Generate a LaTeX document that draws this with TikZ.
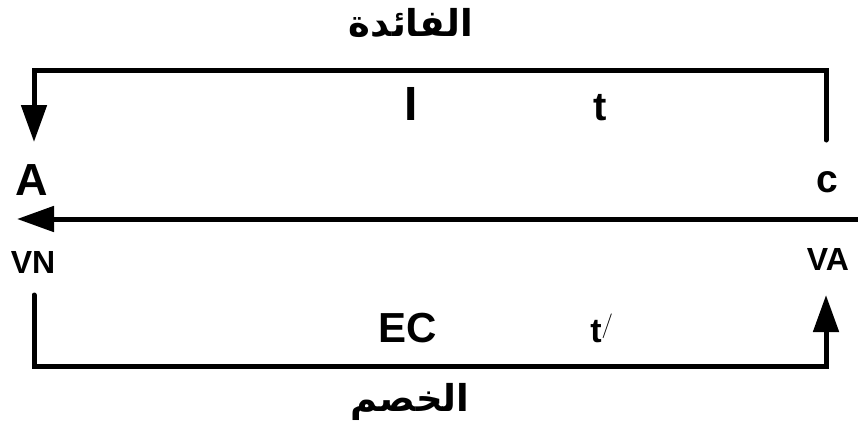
\documentclass[tikz,border=0pt]{standalone}
\usepackage{fontspec}
\setmainfont{Liberation Sans}
\newfontfamily\arabicfont[Script=Arabic]{DejaVu Sans}
\TeXXeTstate=1
\usetikzlibrary{arrows.meta}
\begin{document}
\begin{tikzpicture}[x=1pt,y=-1pt,
  conn/.style={line width=5pt, line cap=round},
  arr/.style={conn,-{Triangle[length=37pt,width=25pt]}},
  lbl/.style={font=\bfseries, inner sep=0pt, anchor=base},
  ar/.style={font=\arabicfont\bfseries\fontsize{37}{42}\selectfont, inner sep=0pt}]
\useasboundingbox (0,0) rectangle (858,432);
% coordinates
\coordinate (tr) at (826,140);
\coordinate (trc) at (826,70);
\coordinate (tlc) at (34,70);
\coordinate (tl) at (34,142);
\coordinate (hs) at (858,219);
\coordinate (he) at (17,219);
\coordinate (bl) at (34,295);
\coordinate (blc) at (34,366);
\coordinate (brc) at (826,366);
\coordinate (br) at (826,295);
% connectors
\draw[arr] (tr) -- (trc) -- (tlc) -- (tl);
\draw[arr, line cap=butt] (hs) -- (he);
\draw[arr] (bl) -- (blc) -- (brc) -- (br);
% labels
\node[ar] (fa) at (411,23) {\beginR الفائدة\endR};
\node[ar] (kh) at (410,402) {\beginR الخصم\endR};
\node[lbl, font=\bfseries\fontsize{48}{52}\selectfont] (I) at (411,120) {I};
\node[lbl, font=\bfseries\fontsize{40}{44}\selectfont] (t1) at (600,120) {t};
\node[lbl, font=\bfseries\fontsize{45}{48}\selectfont] (A) at (32,195) {A};
\node[lbl, font=\bfseries\fontsize{39}{44}\selectfont] (c) at (827,192) {c};
\node[lbl, font=\bfseries\fontsize{32}{36}\selectfont] (VN) at (33,273) {VN};
\node[lbl, font=\bfseries\fontsize{32}{36}\selectfont] (VA) at (828,270) {VA};
\node[lbl, font=\bfseries\fontsize{42}{46}\selectfont] (EC) at (408,342) {EC};
\node[lbl, font=\bfseries\fontsize{34}{38}\selectfont] (t2) at (602,342) {t$^{/}$};
\end{tikzpicture}
\end{document}
